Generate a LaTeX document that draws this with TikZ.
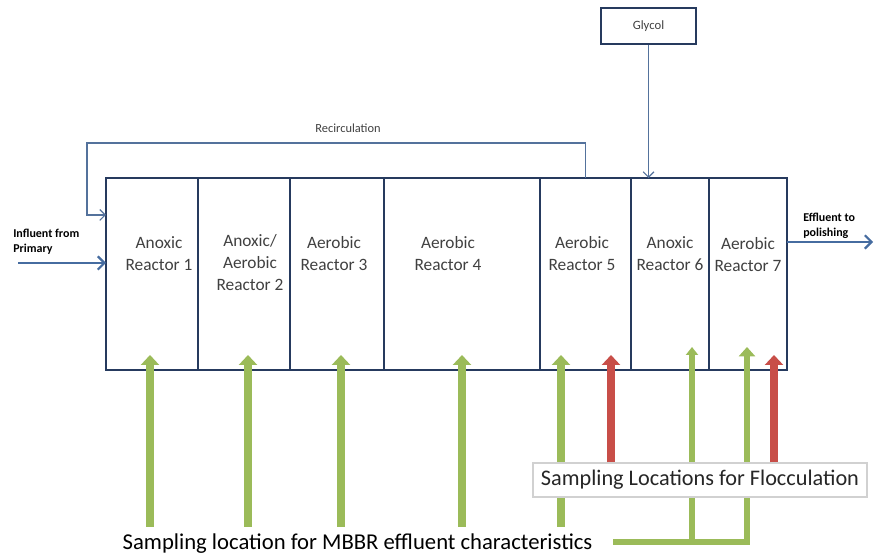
\documentclass[tikz,border=0pt]{standalone}
\usepackage{fontspec}
\setmainfont{Carlito}
\usetikzlibrary{arrows.meta,positioning,calc,shadows}

\definecolor{boxnavy}{RGB}{38,58,94}
\definecolor{linkblue}{RGB}{84,114,156}
\definecolor{flowblue}{RGB}{70,108,160}
\definecolor{sgreen}{RGB}{155,187,89}
\definecolor{sred}{RGB}{200,78,72}

\tikzset{
  reactor/.style={draw=boxnavy, line width=1.5pt, minimum height=144pt,
    inner sep=0pt, outer sep=0pt},
  rtext/.style={align=center, text=black!75, font=\fontsize{13}{16.5}\selectfont},
  flowtext/.style={align=left, anchor=west, inner sep=0pt,
    font=\fontsize{9}{11.5}\selectfont\bfseries},
  flow/.style={draw=flowblue, line width=2.2pt,
    -{Straight Barb[length=5pt,width=10pt,line width=1.6pt]}},
  link/.style={draw=linkblue, line width=0.9pt,
    -{Straight Barb[length=4pt,width=8pt,line width=0.9pt]}},
  gfat/.style={draw=sgreen, line width=6pt, -{Triangle[width=13.5pt,length=7.5pt]}},
  rfat/.style={draw=sred, line width=6pt, -{Triangle[width=13.5pt,length=7.5pt]}},
  gthin/.style={draw=sgreen, line width=4pt, -{Triangle[width=9pt,length=6pt]}},
  gbar/.style={draw=sgreen, line width=5pt, -{Triangle[width=12pt,length=7pt]}}
}

\begin{document}
\begin{tikzpicture}[x=0.75pt, y=0.75pt]
  \useasboundingbox (0,0) rectangle (874,560);

  % reactor train
  \node[reactor, minimum width=69pt] (r1) at (152,286) {};
  \node[reactor, minimum width=69pt, right=0pt of r1] (r2) {};
  \node[reactor, minimum width=70.5pt, right=0pt of r2] (r3) {};
  \node[reactor, minimum width=117pt, right=0pt of r3] (r4) {};
  \node[reactor, minimum width=68.25pt, right=0pt of r4] (r5) {};
  \node[reactor, minimum width=58.5pt, right=0pt of r5] (r6) {};
  \node[reactor, minimum width=58.5pt, right=0pt of r6] (r7) {};

  \node[rtext] (t1) at (159,306) {Anoxic\\Reactor 1};
  \node[rtext] (t2) at (250,297) {Anoxic/\\Aerobic\\Reactor 2};
  \node[rtext] (t3) at (334,306) {Aerobic\\Reactor 3};
  \node[rtext] (t4) at (448,306) {Aerobic\\Reactor 4};
  \node[rtext] (t5) at (582,306) {Aerobic\\Reactor 5};
  \node[rtext] (t6) at (670,306) {Anoxic\\Reactor 6};
  \node[rtext] (t7) at (748,305) {Aerobic\\Reactor 7};

  % glycol feed
  \node[draw=boxnavy, line width=1.5pt, minimum width=71.25pt, minimum height=27pt,
    text=black!75, font=\fontsize{9.5}{11}\selectfont] (glycol) at (648.5,534) {Glycol};
  \draw[link] (glycol.south) -- (glycol.south |- r6.north);

  % recirculation
  \coordinate (rc) at (87,417);
  \draw[link] (r5.north) |- (rc) |- ($(r1.north west)+(0,-37)$);
  \node[text=black!75, font=\fontsize{9.3}{11}\selectfont] (rclabel) at (348,432) {Recirculation};

  % influent and effluent
  \coordinate (inf) at (18,297);
  \draw[flow] (inf) -- (inf -| r1.west);
  \node[flowtext] (inftext) at (13,318.5) {Influent from\\Primary};
  \coordinate (eff) at (873,318);
  \draw[flow] (eff -| r7.east) -- (eff);
  \node[flowtext] (efftext) at (803,334) {Effluent to\\polishing};

  % MBBR sampling points
  \coordinate (tip) at (0,205);
  \coordinate (mb1) at (150,33);
  \coordinate (mb2) at (248,33);
  \coordinate (mb3) at (341,33);
  \coordinate (mb4) at (462,33);
  \coordinate (mb5) at (561,33);
  \draw[gfat] (mb1) -- (mb1 |- tip);
  \draw[gfat] (mb2) -- (mb2 |- tip);
  \draw[gfat] (mb3) -- (mb3 |- tip);
  \draw[gfat] (mb4) -- (mb4 |- tip);
  \draw[gfat] (mb5) -- (mb5 |- tip);

  \node[font=\fontsize{17}{20}\selectfont] (mbbr) at (357.5,16) {Sampling location for MBBR effluent characteristics};
  \coordinate (bar) at ($(mbbr.east)+(16,2)$);
  \coordinate (s6g) at (692,213);
  \coordinate (s7g) at (747,213);
  \draw[gbar] (bar) -| (s7g);
  \draw[gthin] (s6g |- bar) -- (s6g);

  % flocculation sampling points
  \node[draw=black!18, fill=white, line width=0.8pt, minimum width=250.5pt, minimum height=25.5pt,
    drop shadow={opacity=0.2, shadow xshift=1pt, shadow yshift=-1pt},
    font=\fontsize{16.7}{20}\selectfont, text=black!85] (floc) at (700,80) {Sampling Locations for Flocculation};
  \coordinate (s5r) at (611,205);
  \coordinate (s7r) at (774,205);
  \draw[rfat] (floc.north -| s5r) -- (s5r);
  \draw[rfat] (floc.north -| s7r) -- (s7r);
\end{tikzpicture}
\end{document}
